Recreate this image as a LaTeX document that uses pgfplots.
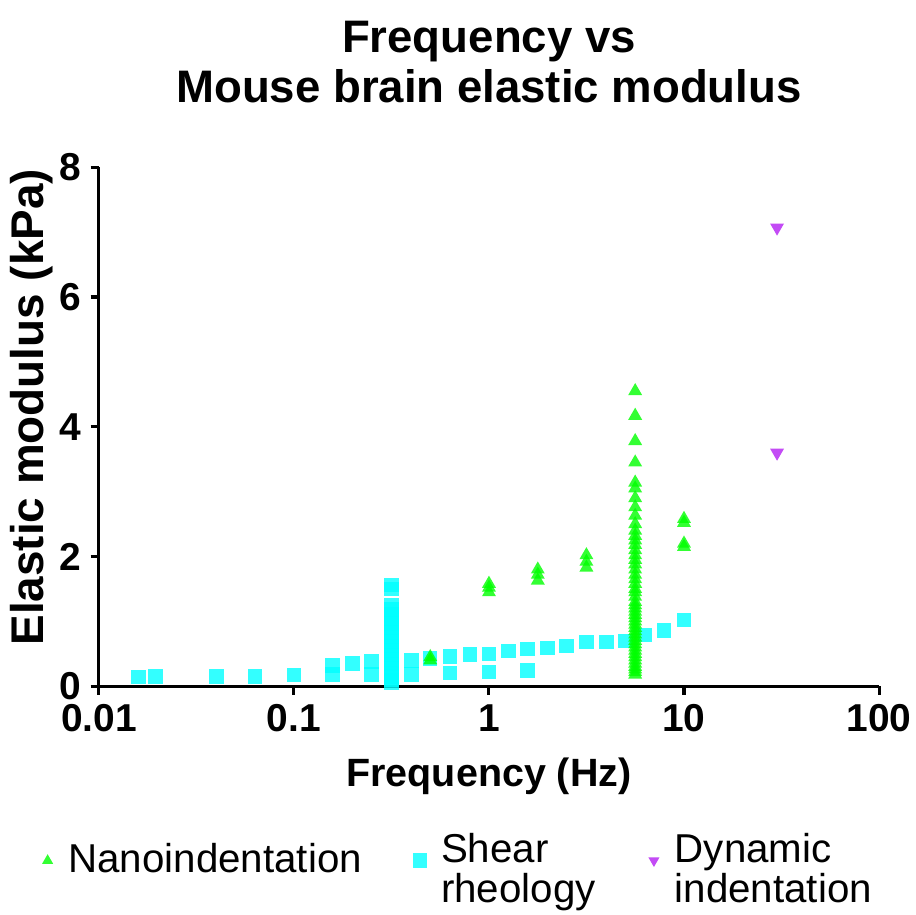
\documentclass[border=0pt]{standalone}
\usepackage{pgfplots}
\pgfplotsset{compat=1.18}
\usepackage{fontspec}
\setmainfont{Liberation Sans}
\definecolor{nano}{RGB}{0,255,0}
\definecolor{shear}{RGB}{0,255,255}
\definecolor{dyn}{RGB}{195,75,245}
\pgfplotstableread{
x y
0.016 0.14
0.0195 0.15
0.04 0.15
0.063 0.15
0.1 0.17
0.158 0.32
0.158 0.18
0.2 0.35
0.25 0.38
0.25 0.18
0.316 0.05
0.316 0.10
0.316 0.15
0.316 0.20
0.316 0.27
0.316 0.34
0.316 0.41
0.316 0.48
0.316 0.55
0.316 0.62
0.316 0.69
0.316 0.76
0.316 0.83
0.316 0.90
0.316 0.97
0.316 1.04
0.316 1.11
0.316 1.18
0.316 1.25
0.316 1.50
0.316 1.56
0.4 0.40
0.4 0.18
0.5 0.43
0.63 0.46
0.63 0.20
0.8 0.49
1.0 0.50
1.0 0.22
1.26 0.54
1.58 0.57
1.58 0.24
2.0 0.59
2.5 0.62
3.16 0.68
4.0 0.68
5.0 0.70
6.3 0.79
7.9 0.86
10 1.02
}\shear
\pgfplotstableread{
x y
0.5 0.45
0.5 0.40
1 1.58
1 1.52
1 1.45
1.78 1.80
1.78 1.72
1.78 1.63
3.16 2.02
3.16 1.92
3.16 1.83
5.62 0.18
5.62 0.22
5.62 0.26
5.62 0.30
5.62 0.35
5.62 0.40
5.62 0.45
5.62 0.50
5.62 0.55
5.62 0.60
5.62 0.65
5.62 0.70
5.62 0.75
5.62 0.80
5.62 0.85
5.62 0.90
5.62 0.95
5.62 1.00
5.62 1.05
5.62 1.10
5.62 1.15
5.62 1.20
5.62 1.25
5.62 1.30
5.62 1.38
5.62 1.45
5.62 1.50
5.62 1.58
5.62 1.65
5.62 1.72
5.62 1.80
5.62 1.88
5.62 1.95
5.62 2.02
5.62 2.10
5.62 2.18
5.62 2.25
5.62 2.32
5.62 2.40
5.62 2.50
5.62 2.63
5.62 2.76
5.62 2.90
5.62 3.05
5.62 3.14
5.62 3.45
5.62 3.78
5.62 4.17
5.62 4.55
10 2.58
10 2.52
10 2.20
10 2.15
}\nano
\pgfplotstableread{
x y
30 7.07
30 3.60
}\dyn
\begin{document}
\begin{tikzpicture}
\path[use as bounding box] (-35.6pt,-82.1pt) rectangle (294.1pt,247pt);
\begin{axis}[
 scale only axis, width=280.8pt, height=186.8pt,
 xmode=log, xmin=0.01, xmax=100, ymin=0, ymax=8,
 axis x line*=bottom, axis y line*=left,
 axis line style={line width=1.1pt,-},
 xtick={0.01,0.1,1,10,100}, xticklabels={0.01,0.1,1,10,100},
 ytick={0,2,4,6,8}, xminorticks=false, yminorticks=false,
 tick align=outside, major tick length=3pt,
 tick style={line width=1.1pt, black},
 ticklabel style={font=\bfseries\fontsize{14}{16}\selectfont},
 /pgf/number format/assume math mode=true,
 xlabel={Frequency (Hz)}, ylabel={Elastic modulus (kPa)},
 xlabel style={font=\bfseries\fontsize{14.2}{16}\selectfont, at={(axis description cs:0.5,-0.193)}, anchor=base},
 ylabel style={font=\bfseries\fontsize{16.5}{18}\selectfont, at={(axis description cs:-0.086,0.5376)}, anchor=center},
 clip=false,
 legend style={draw=none, at={(axis description cs:0.459,-0.336)}, anchor=center,
   font=\fontsize{14.5}{13}\selectfont, legend columns=3,
   /tikz/every even column/.append style={column sep=15pt}},
 legend cell align=left,
 legend image code/.code={\path[draw=none,fill=none] (-4pt,0pt) rectangle (5.5pt,0pt); \draw[#1] plot coordinates {(0pt,0pt)};},
]
\addplot[only marks, color=shear, mark=square*, mark size=2.6pt, mark options={fill=shear, fill opacity=0.8, draw opacity=0}, forget plot] table {\shear};
\addplot[only marks, color=nano, mark=triangle*, mark size=2.9pt, mark options={fill=nano, fill opacity=0.8, draw opacity=0}, forget plot] table {\nano};
\addplot[only marks, color=dyn, mark=triangle*, mark size=2.9pt, mark options={fill=dyn, draw opacity=0, rotate=180}, forget plot] table {\dyn};
\addlegendimage{only marks, color=nano, mark=triangle*, mark size=2.3pt, mark options={fill=nano, fill opacity=0.8, draw opacity=0}}
\addlegendentry{\begin{tabular}{@{}l@{}}Nanoindentation\end{tabular}}
\addlegendimage{only marks, color=shear, mark=square*, mark size=2.6pt, mark options={fill=shear, fill opacity=0.8, draw opacity=0}}
\addlegendentry{\begin{tabular}{@{}l@{}}Shear\\rheology\end{tabular}}
\addlegendimage{only marks, color=dyn, mark=triangle*, mark size=2.3pt, mark options={fill=dyn, draw opacity=0, rotate=180}}
\addlegendentry{\begin{tabular}{@{}l@{}}Dynamic\\indentation\end{tabular}}
\end{axis}
\node[font=\bfseries\fontsize{16.4}{18}\selectfont, align=center] at (140.4pt,224.6pt) {Frequency vs\\Mouse brain elastic modulus};
\end{tikzpicture}
\end{document}
